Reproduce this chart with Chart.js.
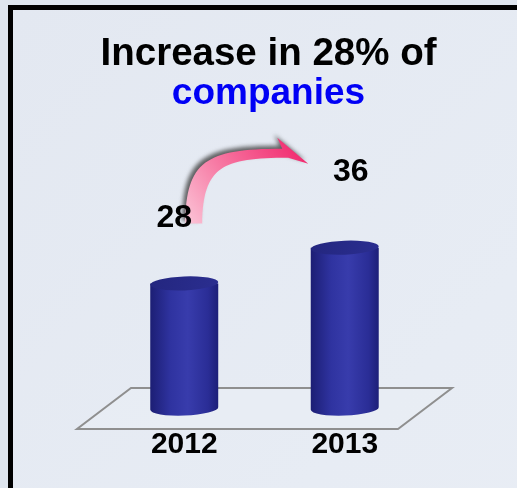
<!DOCTYPE html>
<html>
<head>
<meta charset="utf-8">
<title>Increase in 28% of companies</title>
<script src="https://cdn.jsdelivr.net/npm/chart.js@4.4.1/dist/chart.umd.min.js"></script>
<style>
  html, body { margin: 0; padding: 0; width: 517px; height: 488px; overflow: hidden; background: #dee5ee; }
  .frame {
    position: absolute; left: 8px; top: 5px; width: 700px; height: 700px;
    border: 5px solid #000;
    background: linear-gradient(135deg, #e3e8f1 0%, #e7ecf4 55%, #eaeef5 100%);
  }
  .wrap { position: absolute; left: 10px; top: 0; width: 517px; height: 488px; }
</style>
</head>
<body>
<div class="frame"></div>
<div class="wrap"><canvas id="chart"></canvas></div>
<script>
'use strict';

/* ── data ─────────────────────────────────────────── */
const years     = ['2012', '2013'];
const companies = [28, 36];
const yMax      = 60;

const FONT = "'Liberation Sans', Arial, sans-serif";

/* ── floor plane + cylinders ──────────────────────── */
const cylinders = {
  id: 'cylinders',

  beforeDatasetsDraw(chart) {
    const { ctx, chartArea: a } = chart;
    const dx = 27, dy = 20.5, yb = a.bottom;
    ctx.save();
    ctx.beginPath();
    ctx.moveTo(a.left + dx,  yb - dy);
    ctx.lineTo(a.right + dx, yb - dy);
    ctx.lineTo(a.right - dx, yb + dy);
    ctx.lineTo(a.left - dx,  yb + dy);
    ctx.closePath();
    ctx.fillStyle = 'rgba(236,240,246,0.4)';
    ctx.fill();
    ctx.strokeStyle = '#8f8f8f';
    ctx.lineWidth = 2;
    ctx.stroke();
    ctx.restore();
  },

  afterDatasetsDraw(chart) {
    const ctx = chart.ctx;
    const ry = 7, tilt = -0.04;
    ctx.save();
    chart.getDatasetMeta(0).data.forEach(bar => {
      const { x, y, base, width } = bar.getProps(['x', 'y', 'base', 'width'], true);
      const l = x - width / 2, r = x + width / 2;

      const g = ctx.createLinearGradient(l, 0, r, 0);
      g.addColorStop(0,    '#1c1e74');
      g.addColorStop(0.3,  '#2f33a0');
      g.addColorStop(0.55, '#383cac');
      g.addColorStop(0.85, '#2a2d96');
      g.addColorStop(1,    '#1d1f78');

      ctx.beginPath();
      ctx.moveTo(l, y);
      ctx.lineTo(l, base);
      ctx.ellipse(x, base, width / 2, ry, tilt, Math.PI, 0, true);
      ctx.lineTo(r, y);
      ctx.closePath();
      ctx.fillStyle = g;
      ctx.fill();

      const t = ctx.createLinearGradient(l, y - ry, r, y + ry);
      t.addColorStop(0, '#23267f');
      t.addColorStop(1, '#2b2e90');
      ctx.beginPath();
      ctx.ellipse(x, y, width / 2, ry, tilt, 0, Math.PI * 2);
      ctx.fillStyle = t;
      ctx.fill();
    });
    ctx.restore();
  }
};

/* ── value labels + curved arrow ──────────────────── */
const growthArrow = {
  id: 'growthArrow',
  afterDraw(chart) {
    const ctx = chart.ctx;
    const [b1, b2] = chart.getDatasetMeta(0).data;
    const p1 = (dx, dy) => [b1.x + dx, b1.y + dy];
    const p2 = (dx, dy) => [b2.x + dx, b2.y + dy];

    const oBase = p1(1, -60),   oC1 = p1(2, -122),    oC2 = p2(-139.5, -99), oEnd = p2(-62.5, -99);
    const barb  = p2(-67.5, -110), tip = p2(-36.5, -84), iEnd = p2(-56.5, -90);
    const iC2   = p2(-122.5, -90), iC1 = p1(19, -117), iBase = p1(18, -60);

    ctx.save();
    const g = ctx.createLinearGradient(oBase[0], oBase[1], tip[0], barb[1]);
    g.addColorStop(0,   '#fbc6d8');
    g.addColorStop(0.4, '#f77aa4');
    g.addColorStop(1,   '#f01d66');
    ctx.beginPath();
    ctx.moveTo(...oBase);
    ctx.bezierCurveTo(...oC1, ...oC2, ...oEnd);
    ctx.lineTo(...barb);
    ctx.lineTo(...tip);
    ctx.lineTo(...iEnd);
    ctx.bezierCurveTo(...iC2, ...iC1, ...iBase);
    ctx.closePath();
    ctx.shadowColor = 'rgba(60,60,60,0.8)';
    ctx.shadowBlur = 4;
    ctx.shadowOffsetX = -3;
    ctx.shadowOffsetY = -3;
    ctx.fillStyle = g;
    ctx.fill();
    ctx.restore();

    // value labels
    ctx.save();
    ctx.font = `bold 32px ${FONT}`;
    ctx.fillStyle = '#000';
    ctx.textAlign = 'center';
    ctx.textBaseline = 'middle';
    ctx.fillText(String(companies[0]), ...p1(-10, -65));
    ctx.fillText(String(companies[1]), ...p2(6, -75));
    ctx.restore();
  }
};

// invisible side axes only reserve room so the title keeps the full width
const spacer = (position, width) => ({
  position,
  display: true,
  min: 0,
  max: yMax,
  ticks: { display: false },
  grid: { display: false, drawTicks: false },
  border: { display: false },
  afterFit(scale) { scale.width = width; }
});

/* ── chart ────────────────────────────────────────── */
new Chart(document.getElementById('chart'), {
  type: 'bar',
  data: {
    labels: years,
    datasets: [{
      data: companies,
      backgroundColor: 'rgba(0,0,0,0)',
      borderWidth: 0,
      barThickness: 68
    }]
  },
  options: {
    responsive: true,
    maintainAspectRatio: false,
    animation: false,
    layout: { padding: { top: 35, left: 0, right: 0, bottom: 6.5 } },
    plugins: {
      legend: { display: false },
      tooltip: { enabled: false },
      title: {
        display: true,
        text: 'Increase in 28% of',
        color: '#000',
        font: { family: FONT, size: 38.5, weight: 'bold', lineHeight: 1 },
        padding: { top: 0, bottom: 0 }
      },
      subtitle: {
        display: true,
        text: 'companies',
        color: '#0000f5',
        font: { family: FONT, size: 37, weight: 'bold', lineHeight: 1 },
        padding: { top: 2, bottom: 27.9 }
      }
    },
    scales: {
      x: {
        grid: { display: false, drawTicks: false },
        border: { display: false },
        ticks: {
          color: '#000',
          padding: 18.5,
          font: { family: FONT, size: 30, weight: 'bold', lineHeight: 1.2 }
        }
      },
      y:  spacer('left', 94),
      yR: spacer('right', 102)
    }
  },
  plugins: [cylinders, growthArrow]
});
</script>
</body>
</html>
